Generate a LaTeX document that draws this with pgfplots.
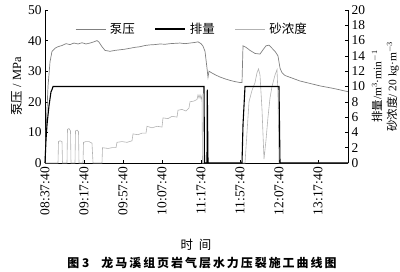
\documentclass[border=0pt]{standalone}
\usepackage{pgfplots}
\pgfplotsset{compat=1.18}
\usepackage{fontspec}
\setmainfont{Liberation Serif}
\newfontfamily\cjk{Noto Sans CJK SC}
\definecolor{presscol}{gray}{0.5}
\definecolor{sandcol}{gray}{0.7}
\pgfplotsset{
  common/.style={scale only axis, width=303bp, height=153bp,
    at={(45bp,109bp)}, anchor=south west, xmin=45, xmax=348,
    tick align=inside, major tick length=3bp,
    tick style={black, line width=0.5pt},
    axis line style={line width=0.6pt},
    ticklabel style={font=\fontsize{13.5}{13.5}\selectfont},
    label style={font=\fontsize{12.5}{14}\selectfont},
    /pgf/number format/assume math mode=true,
    clip=false}
}
\begin{document}
\begin{tikzpicture}
\useasboundingbox (0,0) rectangle (400bp,272bp);
\begin{axis}[common,
  axis y line*=left, axis x line*=bottom,
  ymin=0, ymax=50, ytick={0,10,...,50},
  xtick={45,84,123,162,201,240,279,318},
  xticklabels={08:37:40,09:17:40,09:57:40,10:07:40,11:17:40,11:57:40,12:07:40,13:17:40},
  xticklabel style={rotate=90, anchor=east, inner xsep=4bp},
  ylabel={{\cjk 泵压} / MPa},
  ylabel style={yshift=-1bp}]
\addplot[presscol, line width=0.7pt] coordinates {
(45,0)(46,10)(48,25)(50,33)(52,36.5)(55,37.5)(58,38)(62,38.4)(66,39)(70,38.7)(74,39.2)(78,38.9)(82,39.3)(86,38.9)(90,39.2)(94,39.6)(97,40)(99,39.5)(102,38)(105,36.8)(110,36.5)(115,36.8)(120,37)(125,37.2)(130,37.5)(135,37.8)(140,38)(145,38.4)(150,38.6)(155,38.7)(160,38.9)(165,38.8)(170,39)(175,39.1)(180,39.2)(185,39)(190,39.2)(195,39.4)(198,39.6)(201,39)(203,38.2)(205,36.5)(207,31)(208,28)(209,30)(212,29.4)(216,28.7)(220,28.1)(225,27.5)(230,27)(235,26.6)(240,26.3)(242,26.3)(243,38.3)(246,37.8)(250,36.8)(255,35.8)(260,35.6)(263,37)(266,38.3)(269,38.5)(272,37.5)(275,36.5)(278,35)(280,31)(282,29.5)(285,28.6)(290,28)(295,27.4)(300,26.8)(310,26)(320,25.2)(333,24.4)(340,23.9)(348,23.3)};
\end{axis}
\begin{axis}[common,
  axis y line*=right, axis x line=none,
  ymin=0, ymax=20, ytick={0,2,...,20},
  ylabel={{\cjk 排量}/m$^{3}$·min$^{-1}$\\{\cjk 砂浓度}/ 20 kg·m$^{-3}$},
  ylabel style={align=center, font=\fontsize{11.5}{15}\selectfont},
  legend style={draw=none, fill=none, at={(0.485,0.876)}, anchor=center,
    legend columns=3, font=\fontsize{12.5}{12.5}\selectfont,
    /tikz/every odd column/.append style={column sep=2bp},
    /tikz/every even column/.append style={column sep=18bp}},
  legend image code/.code={\draw[#1] (0bp,0bp) -- (30bp,0bp);}]
\addlegendimage{presscol, line width=0.7pt}
\addlegendentry{\cjk 泵压}
\addplot[sandcol, line width=0.6pt, forget plot] coordinates {
(45,0)(58,0)(58.5,2.8)(60,2.9)(62,2.8)(62.5,0)(67,0)(67.5,4.4)(69,4.5)(70.5,4.2)(71,0)(75,0)(75.5,4.2)(77,4.3)(78.5,4.1)(79,0)(83,0)(83.5,2.7)(86,2.8)(89,2.8)(92,2.6)(93,0)(102,0)(102.5,2.0)(108,1.9)(112,2.0)(116,2.0)(117,2.7)(122,2.8)(127,2.7)(132,2.9)(133,3.8)(138,3.7)(142,3.9)(146,3.9)(147,4.8)(152,4.6)(157,4.8)(162,4.7)(163,5.9)(168,5.8)(172,6.1)(177,6.0)(178,6.9)(182,7.0)(186,6.8)(189,7.2)(190,8.0)(194,8.1)(197,8.3)(198,8.9)(199,8.5)(200,8.9)(201,8.4)(202,8.8)(202.5,0)(245,0)(247,4)(249,8)(252,9.5)(255,10.5)(257,11.8)(258.5,12.3)(260,11.5)(262,7)(264,0.5)(266,3)(268,6)(270,8.5)(272,10)(275,11.5)(277,12.2)(278,9)(279,0)(348,0)};
\addplot[black, line width=1.1pt] coordinates {
(45,0)(46,3)(47,5)(49,7.5)(51,9.3)(52,9.6)(53,10)(204,10)(204.5,0)(207,0)(207.3,9.6)(208,0)(242,0)(243,5)(245,10)(279,10)(280,0)(348,0)};
\addlegendentry{\cjk 排量}
\addlegendimage{sandcol, line width=0.6pt}
\addlegendentry{\cjk 砂浓度}
\end{axis}
\node[font=\fontsize{12.5}{12.5}\selectfont\cjk] at (196bp,27bp) {时\hspace{6bp}间};
\node[font=\fontsize{12}{12}\selectfont\cjk\bfseries] at (202bp,9bp) {图 3\hspace{12bp}龙\,马\,溪\,组\,页\,岩\,气\,层\,水\,力\,压\,裂\,施\,工\,曲\,线\,图};
\end{tikzpicture}
\end{document}
